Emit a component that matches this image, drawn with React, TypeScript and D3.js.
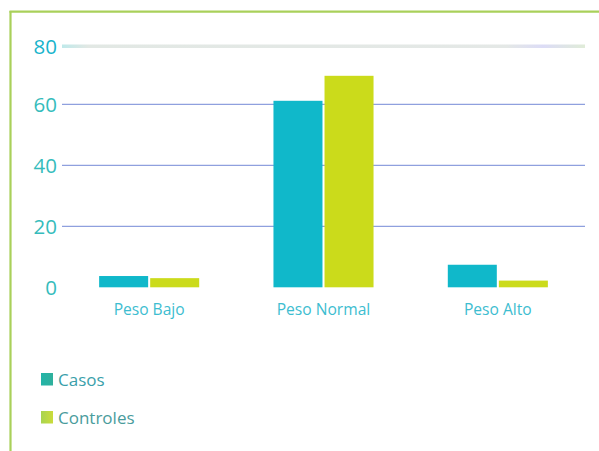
import React from "react";
import * as d3 from "d3";

const categories = ["Peso Bajo", "Peso Normal", "Peso Alto"];
const seriesNames = ["Casos", "Controles"];
const casos = [3.7, 61.2, 7.4];
const controles = [3.0, 69.4, 2.2];
const yTicks = [0, 20, 40, 60, 80];

const colors = ["#10b8ca", "#cbdb1b"];

export default function App() {
  const W = 599, H = 451;
  const left = 62, right = 585, top = 43.5, bottom = 287.3;
  const x0 = d3.scaleBand<string>().domain(categories).range([left, right]).paddingInner(0.426).paddingOuter(0.213);
  const x1 = d3.scaleBand<string>().domain(seriesNames).range([0, x0.bandwidth()]).paddingInner(0.04);
  const y = d3.scaleLinear().domain([0, 80]).range([bottom, top]);
  const values = [casos, controles];
  const font = "'Open Sans', 'Noto Sans', sans-serif";

  return (
    <svg width={W} height={H} style={{ position: "absolute", left: 0, top: 0 }} fontFamily={font}>
      <rect x={0} y={0} width={W} height={H} fill="#ffffff" />
      {/* frame */}
      <line x1={10.5} x2={10.5} y1={11} y2={H} stroke="#a9d05a" strokeWidth={2.2} />
      <line x1={9.5} x2={W} y1={11.7} y2={11.7} stroke="#a9d05a" strokeWidth={2.2} />
      <defs>
        <linearGradient id="topband" x1="0" x2="1" y1="0" y2="0">
          <stop offset="0" stopColor="#bfe9ea" />
          <stop offset="0.05" stopColor="#e2e8e4" />
          <stop offset="0.85" stopColor="#e4e8e6" />
          <stop offset="0.92" stopColor="#dcdcf6" />
          <stop offset="1" stopColor="#e0ecd8" />
        </linearGradient>
        <linearGradient id="leg0" x1="0" x2="1">
          <stop offset="0" stopColor="#22b4a8" />
          <stop offset="1" stopColor="#30b09c" />
        </linearGradient>
        <linearGradient id="leg1" x1="0" x2="1">
          <stop offset="0" stopColor="#a8d450" />
          <stop offset="1" stopColor="#cbdc3a" />
        </linearGradient>
        <linearGradient id="axis0" x1="0" x2="1">
          <stop offset="0" stopColor="#b8b8b8" />
          <stop offset="0.08" stopColor="#9aa6d8" />
          <stop offset="0.9" stopColor="#8fa0de" />
          <stop offset="1" stopColor="#b8b8c8" />
        </linearGradient>
      </defs>
      {/* gridlines */}
      {yTicks.map((t) =>
        t === 80 ? (
          <rect key={t} x={left} y={y(t) + 1} width={right - left} height={3.5} fill="url(#topband)" />
        ) : (
          <line key={t} x1={left} x2={right} y1={y(t)} y2={y(t)} stroke={t === 0 ? "url(#axis0)" : "#8fa0de"} strokeWidth={1.2} />
        )
      )}
      {yTicks.map((t) => (
        <text key={"l" + t} x={57} y={y(t) + (t === 80 ? 10 : 7.5)} textAnchor="end" fontSize={20.5} fill={t === 80 ? "#18b4cc" : "#35bcbc"}>
          {t}
        </text>
      ))}
      {/* bars */}
      {categories.map((c, i) => (
        <g key={c} transform={`translate(${x0(c)},0)`}>
          {seriesNames.map((s, j) => (
            <rect
              key={s}
              x={x1(s)}
              y={y(values[j][i])}
              width={x1.bandwidth()}
              height={y(0) - y(values[j][i])}
              fill={colors[j]}
            />
          ))}
        </g>
      ))}
      {/* category labels */}
      {categories.map((c) => (
        <text key={c} x={(x0(c) as number) + x0.bandwidth() / 2} y={315} textAnchor="middle" fontSize={15.6} fill="#3dbdd0">
          {c}
        </text>
      ))}
      {/* legend */}
      {seriesNames.map((s, j) => (
        <g key={s} transform={`translate(41,${373 + j * 38})`}>
          <rect x={0} y={0} width={12} height={12.5} fill={`url(#leg${j})`} />
          <text x={17} y={13} fontSize={17} fill={j === 0 ? "#3a9faa" : "#4a9c9c"}>
            {s}
          </text>
        </g>
      ))}
    </svg>
  );
}
